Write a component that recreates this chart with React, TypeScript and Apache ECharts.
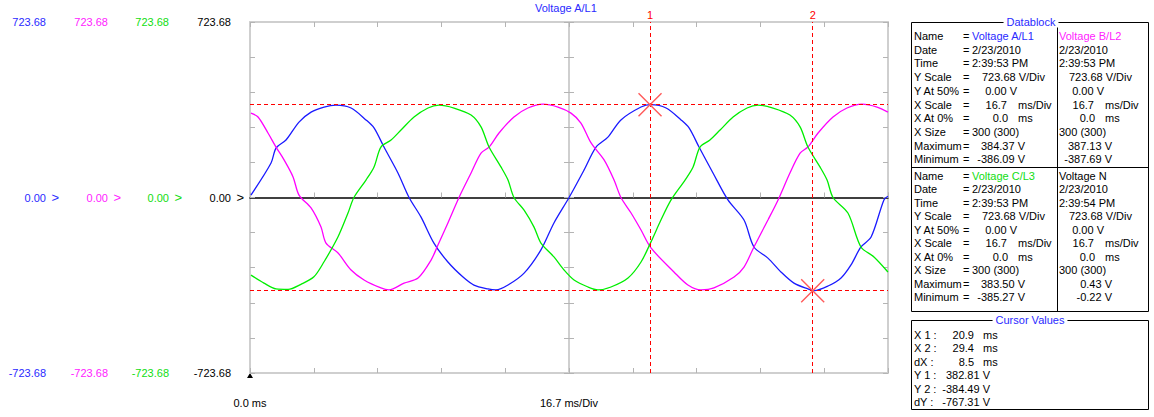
import React, { useEffect, useRef } from "react";
import * as echarts from "echarts";

// ---------- data ----------
const Y_MAX = 723.68;
const X_MAX = 100 / 3; // ms shown across the plot
const yTickLabels = ["723.68", "0.00", "-723.68"];
const xTickLabels = ["0.0 ms", "16.7 ms/Div"];
const chartTitle = "Voltage A/L1";

// Voltage A/L1 (ms, V)
const tA = [0.05, 1.10, 1.36, 1.88, 2.56, 3.19, 3.87, 4.49, 5.28, 6.06, 6.48, 7.00, 7.73, 8.31, 8.93, 9.61, 10.34, 11.13, 11.70, 12.43, 12.85, 13.48, 14.32, 15.20, 15.88, 16.67, 17.45, 18.08, 18.70, 19.38, 20.43, 20.95, 21.74, 22.52, 22.94, 23.46, 24.19, 24.97, 25.81, 26.33, 27.06, 27.74, 28.42, 29.15, 29.47, 30.20, 30.88, 31.40, 31.92, 32.45, 33.12, 33.33];
const vA = [10, 142, 204, 237, 311, 352, 373, 381, 369, 320, 287, 208, 101, 0, -80, -188, -266, -328, -361, -377, -381, -361, -312, -216, -105, 0, 113, 208, 249, 320, 373, 383, 369, 320, 287, 208, 101, -10, -93, -204, -250, -307, -353, -377, -384, -365, -332, -278, -204, -163, -10, 5];

// Voltage B/L2
const tB = [0.05, 0.42, 0.94, 1.36, 1.78, 2.25, 2.56, 3.19, 3.71, 3.97, 4.60, 5.28, 5.96, 6.84, 7.26, 8.05, 8.78, 9.46, 9.82, 10.34, 10.92, 11.55, 12.07, 12.49, 13.01, 13.79, 14.52, 15.31, 16.09, 16.77, 17.29, 17.82, 18.50, 19.02, 19.38, 19.91, 20.43, 20.95, 22.15, 22.88, 23.56, 24.24, 25.29, 25.81, 26.33, 27.06, 27.59, 28.21, 28.74, 29.15, 29.68, 30.46, 31.19, 31.97, 32.76, 33.33];
const vB = [348, 332, 266, 208, 155, 85, 10, -43, -122, -188, -229, -299, -340, -373, -381, -353, -332, -258, -196, -105, 0, 101, 183, 208, 266, 332, 369, 385, 373, 348, 307, 225, 155, 72, 0, -64, -134, -208, -307, -361, -381, -373, -328, -287, -204, -93, -10, 101, 183, 208, 266, 332, 369, 385, 373, 352];

// Voltage C/L3
const tC = [0.05, 0.73, 1.36, 1.99, 2.66, 3.34, 3.87, 4.60, 5.12, 5.43, 6.06, 6.48, 6.84, 7.37, 7.89, 8.57, 9.30, 9.87, 10.66, 11.55, 12.07, 12.49, 13.11, 13.48, 13.79, 14.32, 14.84, 15.20, 15.88, 16.41, 16.93, 17.66, 18.18, 18.86, 19.75, 20.43, 20.95, 21.47, 22.00, 22.73, 23.15, 23.51, 24.03, 24.56, 25.24, 25.97, 26.54, 27.33, 28.21, 28.74, 29.15, 29.78, 30.15, 30.46, 31.24, 31.92, 32.60, 33.33];
const vC = [-320, -353, -377, -379, -358, -327, -265, -162, -64, 0, 72, 126, 208, 237, 278, 332, 369, 381, 369, 340, 291, 208, 126, 72, 0, -52, -122, -188, -245, -299, -340, -369, -381, -369, -332, -266, -183, -93, -10, 72, 126, 208, 237, 278, 332, 369, 381, 369, 340, 291, 208, 126, 72, 0, -64, -204, -245, -307];

// Cursors
const cursorX = [20.9, 29.4];
const cursorY = [382.81, -384.49];
const cursorNames = ["1", "2"];

// Datablock
const rowLabels = ["Name", "Date", "Time", "Y Scale", "Y At 50%", "X Scale", "X At 0%", "X Size", "Maximum", "Minimum"];
const channelNames = ["Voltage A/L1", "Voltage B/L2", "Voltage C/L3", "Voltage N"];
const dates = ["2/23/2010", "2/23/2010", "2/23/2010", "2/23/2010"];
const times = ["2:39:53 PM", "2:39:53 PM", "2:39:53 PM", "2:39:54 PM"];
const yScales = ["723.68 V/Div", "723.68 V/Div", "723.68 V/Div", "723.68 V/Div"];
const yAt50 = ["0.00 V", "0.00 V", "0.00 V", "0.00 V"];
const xScales = ["16.7", "16.7", "16.7", "16.7"];
const xAt0 = ["0.0", "0.0", "0.0", "0.0"];
const xSizes = ["300 (300)", "300 (300)", "300 (300)", "300 (300)"];
const maxima = ["384.37 V", "387.13 V", "383.50 V", "0.43 V"];
const minima = ["-386.09 V", "-387.69 V", "-385.27 V", "-0.22 V"];

// Cursor values
const cursorRowLabels = ["X 1 :", "X 2 :", "dX :", "Y 1 :", "Y 2 :", "dY :"];
const cursorRowValues = ["20.9", "29.4", "8.5", "382.81 V", "-384.49 V", "-767.31 V"];

// ---------- styles ----------
const FONT = '"Liberation Sans", Arial, sans-serif';
const BLUE = "#1a1aff";
const BLUE_T = "#2a2aff";
const MAG = "#ff00ff";
const MAG_T = "#ff22ff";
const GREEN = "#00ee00";
const GREEN_T = "#11dd11";
const GRAY = "#cfcfcf";
const TICK = "#b4b4b4";
const channelColors = [BLUE_T, MAG_T, GREEN_T, "#000000"];

const pairs = (t: number[], v: number[]) => t.map((x, i) => [x, v[i]]);

function yLabelAxis(color: string, offset: number, gridIndex: number, extra: any = {}) {
  return {
    type: "value",
    gridIndex,
    position: "left",
    offset,
    min: -Y_MAX,
    max: Y_MAX,
    interval: Y_MAX / 5,
    axisLine: { show: false },
    axisTick: { show: false },
    splitLine: { show: false },
    axisLabel: {
      show: true,
      margin: 6,
      interval: 0,
      showMinLabel: true,
      showMaxLabel: true,
      fontSize: 11,
      fontFamily: FONT,
      color,
      formatter: (v: number) => {
        if (Math.abs(v - Y_MAX) < 1) return `{n|${yTickLabels[0]}}{g| }`;
        if (Math.abs(v) < 1) return `{n|${yTickLabels[1]}}{g|>}`;
        if (Math.abs(v + Y_MAX) < 1) return `{n|${yTickLabels[2]}}{g| }`;
        return "";
      },
      rich: {
        n: { color, fontSize: 11, fontFamily: FONT },
        g: { color, fontSize: 13, fontFamily: FONT, width: 13, align: "right" },
      },
    },
    ...extra,
  };
}

function buildGraphics() {
  const g: any[] = [];
  const txt = (x: number, y: number, text: string, fill = "#000", align = "left") =>
    g.push({
      type: "text",
      x,
      y,
      silent: true,
      style: { text, fill, font: `11px ${FONT}`, align, verticalAlign: "middle" },
    });
  const line = (x1: number, y1: number, x2: number, y2: number) =>
    g.push({ type: "line", silent: true, shape: { x1, y1, x2, y2 }, style: { stroke: "#000", lineWidth: 1 } });

  // Datablock frame
  g.push({ type: "rect", silent: true, shape: { x: 911.5, y: 22.5, width: 237, height: 289 }, style: { fill: "none", stroke: "#000", lineWidth: 1 } });
  line(1057.5, 23, 1057.5, 311);
  line(912, 167.5, 1148, 167.5);
  g.push({
    type: "text", x: 1031, y: 22, silent: true,
    style: { text: "Datablock", fill: BLUE_T, font: `11px ${FONT}`, align: "center", verticalAlign: "middle", backgroundColor: "#fff", padding: [0, 3] },
  });

  const sections = [
    { y0: 36, step: 13.7, ch: [0, 1] },
    { y0: 176, step: 13.45, ch: [2, 3] },
  ];
  sections.forEach((s) => {
    rowLabels.forEach((lab, r) => {
      const y = s.y0 + r * s.step;
      txt(914, y, lab);
      txt(963, y, "=");
    });
    s.ch.forEach((c, k) => {
      const dx = k * 87;
      const y = (r: number) => s.y0 + r * s.step;
      txt(972 + dx, y(0), channelNames[c], channelColors[c]);
      txt(972 + dx, y(1), dates[c]);
      txt(972 + dx, y(2), times[c]);
      txt(982 + dx, y(3), yScales[c]);
      txt(1017 + dx, y(4), yAt50[c], "#000", "right");
      txt(1007 + dx, y(5), xScales[c], "#000", "right");
      txt(1018 + dx, y(5), "ms/Div");
      txt(1008 + dx, y(6), xAt0[c], "#000", "right");
      txt(1018 + dx, y(6), "ms");
      txt(972 + dx, y(7), xSizes[c]);
      txt(1025 + dx, y(8), maxima[c], "#000", "right");
      txt(1025 + dx, y(9), minima[c], "#000", "right");
    });
  });

  // Cursor values box
  g.push({ type: "rect", silent: true, shape: { x: 911.5, y: 320.5, width: 237, height: 89 }, style: { fill: "none", stroke: "#000", lineWidth: 1 } });
  g.push({
    type: "text", x: 1030, y: 320, silent: true,
    style: { text: "Cursor Values", fill: BLUE_T, font: `11px ${FONT}`, align: "center", verticalAlign: "middle", backgroundColor: "#fff", padding: [0, 3] },
  });
  cursorRowLabels.forEach((lab, r) => {
    const y = 335 + r * 13.45;
    txt(914, y, lab);
    if (r < 3) {
      txt(974, y, cursorRowValues[r], "#000", "right");
      txt(983, y, "ms");
    } else {
      txt(990, y, cursorRowValues[r], "#000", "right");
    }
  });

  // origin marker
  g.push({ type: "polygon", silent: true, shape: { points: [[247, 378], [253, 378], [250, 373]] }, style: { fill: "#000" } });
  return g;
}

const X_MARK = "path://M0,1 L1,0 L12,11 L23,0 L24,1 L13,12 L24,23 L23,24 L12,13 L1,24 L0,23 L11,12 Z";

export default function App() {
  const ref = useRef<HTMLDivElement | null>(null);

  useEffect(() => {
    if (!ref.current) return;
    const chart = echarts.init(ref.current, undefined, { renderer: "svg" });
    const gridRect = { left: 250, top: 22, width: 638, height: 351 };

    const edgeX = (position: string, labels: boolean) => ({
      type: "value",
      gridIndex: 0,
      position,
      min: 0,
      max: X_MAX,
      interval: X_MAX / 10,
      axisLine: { show: true, onZero: false, lineStyle: { color: GRAY, width: 2 } },
      axisTick: { show: true, inside: true, length: 5, lineStyle: { color: TICK } },
      splitLine: { show: false },
      axisLabel: labels
        ? {
            show: true,
            interval: 0,
            margin: 24,
            fontSize: 11,
            fontFamily: FONT,
            color: "#000",
            showMinLabel: true,
            formatter: (v: number) => {
              if (Math.abs(v) < 1e-6) return xTickLabels[0];
              if (Math.abs(v - X_MAX / 2) < 0.01) return xTickLabels[1];
              return "";
            },
          }
        : { show: false },
    });

    const lineSeries = (name: string, t: number[], v: number[], color: string, extra: any = {}) => ({
      name,
      type: "line",
      xAxisIndex: 0,
      yAxisIndex: 0,
      data: pairs(t, v),
      showSymbol: false,
      smooth: 0.3,
      silent: true,
      z: 3,
      lineStyle: { color, width: 1.3 },
      ...extra,
    });

    const option: any = {
      animation: false,
      backgroundColor: "#fff",
      title: {
        text: chartTitle,
        left: 535,
        top: 2,
        padding: 0,
        textStyle: { color: BLUE_T, fontSize: 11, fontWeight: "normal", fontFamily: FONT },
      },
      grid: [gridRect, gridRect, gridRect, gridRect].map((r) => ({ ...r, containLabel: false })),
      xAxis: [
        edgeX("bottom", true),
        edgeX("top", false),
        {
          type: "value",
          gridIndex: 1,
          position: "bottom",
          min: 0,
          max: X_MAX,
          interval: X_MAX / 10,
          axisLine: { show: true, onZero: true, lineStyle: { color: "#000", width: 1.5 } },
          axisTick: { show: true, inside: true, length: 5, lineStyle: { color: TICK } },
          axisLabel: { show: false },
          splitLine: { show: false },
        },
        { type: "value", gridIndex: 2, min: -1, max: 1, show: false },
        { type: "value", gridIndex: 3, min: -1, max: 1, show: false },
      ],
      yAxis: [
        yLabelAxis("#000", 0, 0, {
          axisLine: { show: true, onZero: false, lineStyle: { color: GRAY, width: 2 } },
          axisTick: { show: true, inside: true, length: 5, lineStyle: { color: TICK } },
        }),
        {
          type: "value",
          gridIndex: 0,
          position: "right",
          min: -Y_MAX,
          max: Y_MAX,
          interval: Y_MAX / 5,
          axisLine: { show: true, onZero: false, lineStyle: { color: GRAY, width: 2 } },
          axisTick: { show: true, inside: true, length: 5, lineStyle: { color: TICK } },
          axisLabel: { show: false },
          splitLine: { show: false },
        },
        yLabelAxis(BLUE_T, 185, 0),
        yLabelAxis(MAG_T, 123, 0),
        yLabelAxis(GREEN_T, 62, 0),
        { type: "value", gridIndex: 1, min: -Y_MAX, max: Y_MAX, show: false },
        {
          type: "value",
          gridIndex: 2,
          position: "left",
          min: -Y_MAX,
          max: Y_MAX,
          interval: Y_MAX / 5,
          axisLine: { show: true, onZero: true, lineStyle: { color: GRAY, width: 2 } },
          axisTick: { show: true, inside: true, length: 5, lineStyle: { color: TICK } },
          axisLabel: { show: false },
          splitLine: { show: false },
        },
        {
          type: "value",
          gridIndex: 3,
          position: "left",
          min: -Y_MAX,
          max: Y_MAX,
          interval: Y_MAX / 5,
          axisLine: { show: true, onZero: true, lineStyle: { color: GRAY, width: 2 } },
          axisTick: { show: true, inside: false, length: 5, lineStyle: { color: TICK } },
          axisLabel: { show: false },
          splitLine: { show: false },
        },
      ],
      series: [
        lineSeries(channelNames[0], tA, vA, BLUE),
        lineSeries(channelNames[1], tB, vB, MAG),
        lineSeries(channelNames[2], tC, vC, GREEN, {
          markLine: {
            silent: true,
            symbol: ["none", "none"],
            lineStyle: { color: "#ff0000", type: [4, 3], width: 1 },
            label: { show: false },
            data: [
              ...cursorX.map((x, i) => ({
                xAxis: x,
                label: { show: true, position: "end", formatter: cursorNames[i], color: "#ff0000", fontSize: 11, fontFamily: FONT, distance: 2 },
              })),
              ...cursorY.map((y) => ({ yAxis: y, label: { show: false } })),
            ],
          },
          markPoint: {
            silent: true,
            symbol: X_MARK,
            symbolSize: 24,
            itemStyle: { color: "#ff5a5a" },
            label: { show: false },
            data: cursorX.map((x, i) => ({ coord: [x, cursorY[i]] })),
          },
        }),
      ],
      graphic: buildGraphics(),
    };

    chart.setOption(option);
    return () => chart.dispose();
  }, []);

  return (
    <div
      ref={ref}
      style={{ position: "fixed", left: 0, top: 0, width: 1154, height: 417, background: "#fff" }}
    />
  );
}
